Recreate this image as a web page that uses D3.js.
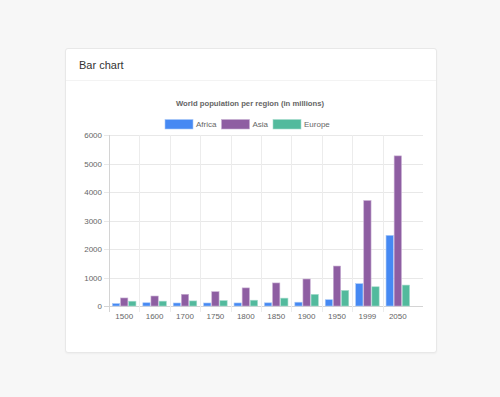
<!DOCTYPE html>
<html lang="en">
  <head>
    <meta charset="UTF-8" />
    <title>Bar chart</title>
    <script src="https://d3js.org/d3.v7.min.js"></script>
    <style>
      body {
        margin: 0;
        background: #f7f7f7;
        font-family: "Liberation Sans", Arial, sans-serif;
      }
      #card {
        position: absolute;
        left: 65px;
        top: 48px;
        width: 370px;
        height: 303px;
        background: #fff;
        border: 1px solid #e8e8e8;
        border-radius: 3px;
        box-shadow: 0 1px 2px rgba(0, 0, 0, 0.04);
      }
      #card-header {
        height: 31px;
        border-bottom: 1px solid #f3f3f3;
        font-size: 11px;
        color: #333;
        padding-left: 13px;
        line-height: 33px;
      }
      #chart {
        position: absolute;
        left: 0;
        top: 0;
      }
    </style>
  </head>
  <body>
    <div id="card">
      <div id="card-header">Bar chart</div>
    </div>
    <svg id="chart" width="500" height="397"></svg>
    <script>
      const years = ["1500", "1600", "1700", "1750", "1800", "1850", "1900", "1950", "1999", "2050"];
      const africa = [86, 114, 106, 106, 107, 111, 133, 221, 783, 2478];
      const asia = [282, 350, 411, 502, 635, 809, 947, 1402, 3700, 5267];
      const europe = [168, 170, 178, 190, 203, 276, 408, 547, 675, 734];
      const seriesNames = ["Africa", "Asia", "Europe"];
      const yTicks = [0, 1000, 2000, 3000, 4000, 5000, 6000];

      const colors = ["#4689f3", "#8e5ea2", "#52ba9d"];
      const borders = ["#a9c8f7", "#c7aed2", "#a6dccd"];
      const series = [africa, asia, europe];

      const svg = d3.select("#chart");
      const plotLeft = 109, plotRight = 413, plotTop = 135, plotBottom = 306;

      const x = d3.scaleBand().domain(years).range([plotLeft, plotRight]);
      const y = d3.scaleLinear().domain([0, 6000]).range([plotBottom, plotTop]);
      const inner = d3.scaleBand().domain(seriesNames)
        .range([0, x.bandwidth() * 0.8]).paddingInner(0.1).paddingOuter(0.05);

      // horizontal gridlines
      svg.append("g")
        .selectAll("line")
        .data(yTicks)
        .join("line")
        .attr("x1", plotLeft - 5)
        .attr("x2", 423)
        .attr("y1", (d) => Math.round(y(d)) + 0.5)
        .attr("y2", (d) => Math.round(y(d)) + 0.5)
        .attr("stroke", (d) => (d === 0 ? "#d4d4d4" : "#e8e8e8"))
        .attr("stroke-width", 1);

      // vertical gridlines
      svg.append("g")
        .selectAll("line")
        .data(years)
        .join("line")
        .attr("x1", (d) => Math.round(x(d)) + 0.5)
        .attr("x2", (d) => Math.round(x(d)) + 0.5)
        .attr("y1", plotTop)
        .attr("y2", plotBottom + 6)
        .attr("stroke", (d, i) => (i === 0 ? "#d4d4d4" : "#ececec"))
        .attr("stroke-width", 1);

      // y labels
      svg.append("g")
        .selectAll("text")
        .data(yTicks)
        .join("text")
        .attr("x", 102)
        .attr("y", (d) => y(d) + 3)
        .attr("text-anchor", "end")
        .attr("font-size", 8)
        .attr("fill", "#666")
        .text((d) => d);

      // x labels
      svg.append("g")
        .selectAll("text")
        .data(years)
        .join("text")
        .attr("x", (d) => x(d) + x.bandwidth() / 2)
        .attr("y", 318.5)
        .attr("text-anchor", "middle")
        .attr("font-size", 8)
        .attr("fill", "#666")
        .text((d) => d);

      // bars
      series.forEach((vals, s) => {
        svg.append("g")
          .selectAll("rect")
          .data(vals)
          .join("rect")
          .attr("x", (d, i) => x(years[i]) + x.bandwidth() * 0.1 + inner(seriesNames[s]))
          .attr("y", (d) => y(d))
          .attr("width", inner.bandwidth())
          .attr("height", (d) => plotBottom - y(d))
          .attr("fill", colors[s])
          .attr("stroke", borders[s])
          .attr("stroke-width", 0.6);
      });

      // title
      svg.append("text")
        .attr("x", 250)
        .attr("y", 105.5)
        .attr("text-anchor", "middle")
        .attr("font-size", 7.7)
        .attr("font-weight", "bold")
        .attr("fill", "#666")
        .text("World population per region (in millions)");

      // legend
      const legendX = [165, 221.5, 273];
      const legend = svg.append("g");
      seriesNames.forEach((name, s) => {
        legend.append("rect")
          .attr("x", legendX[s])
          .attr("y", 119.5)
          .attr("width", 28)
          .attr("height", 9.5)
          .attr("fill", colors[s])
          .attr("stroke", borders[s])
          .attr("stroke-width", 0.6);
        legend.append("text")
          .attr("x", legendX[s] + 31)
          .attr("y", 127.3)
          .attr("font-size", 8)
          .attr("fill", "#666")
          .text(name);
      });
    </script>
  </body>
</html>
